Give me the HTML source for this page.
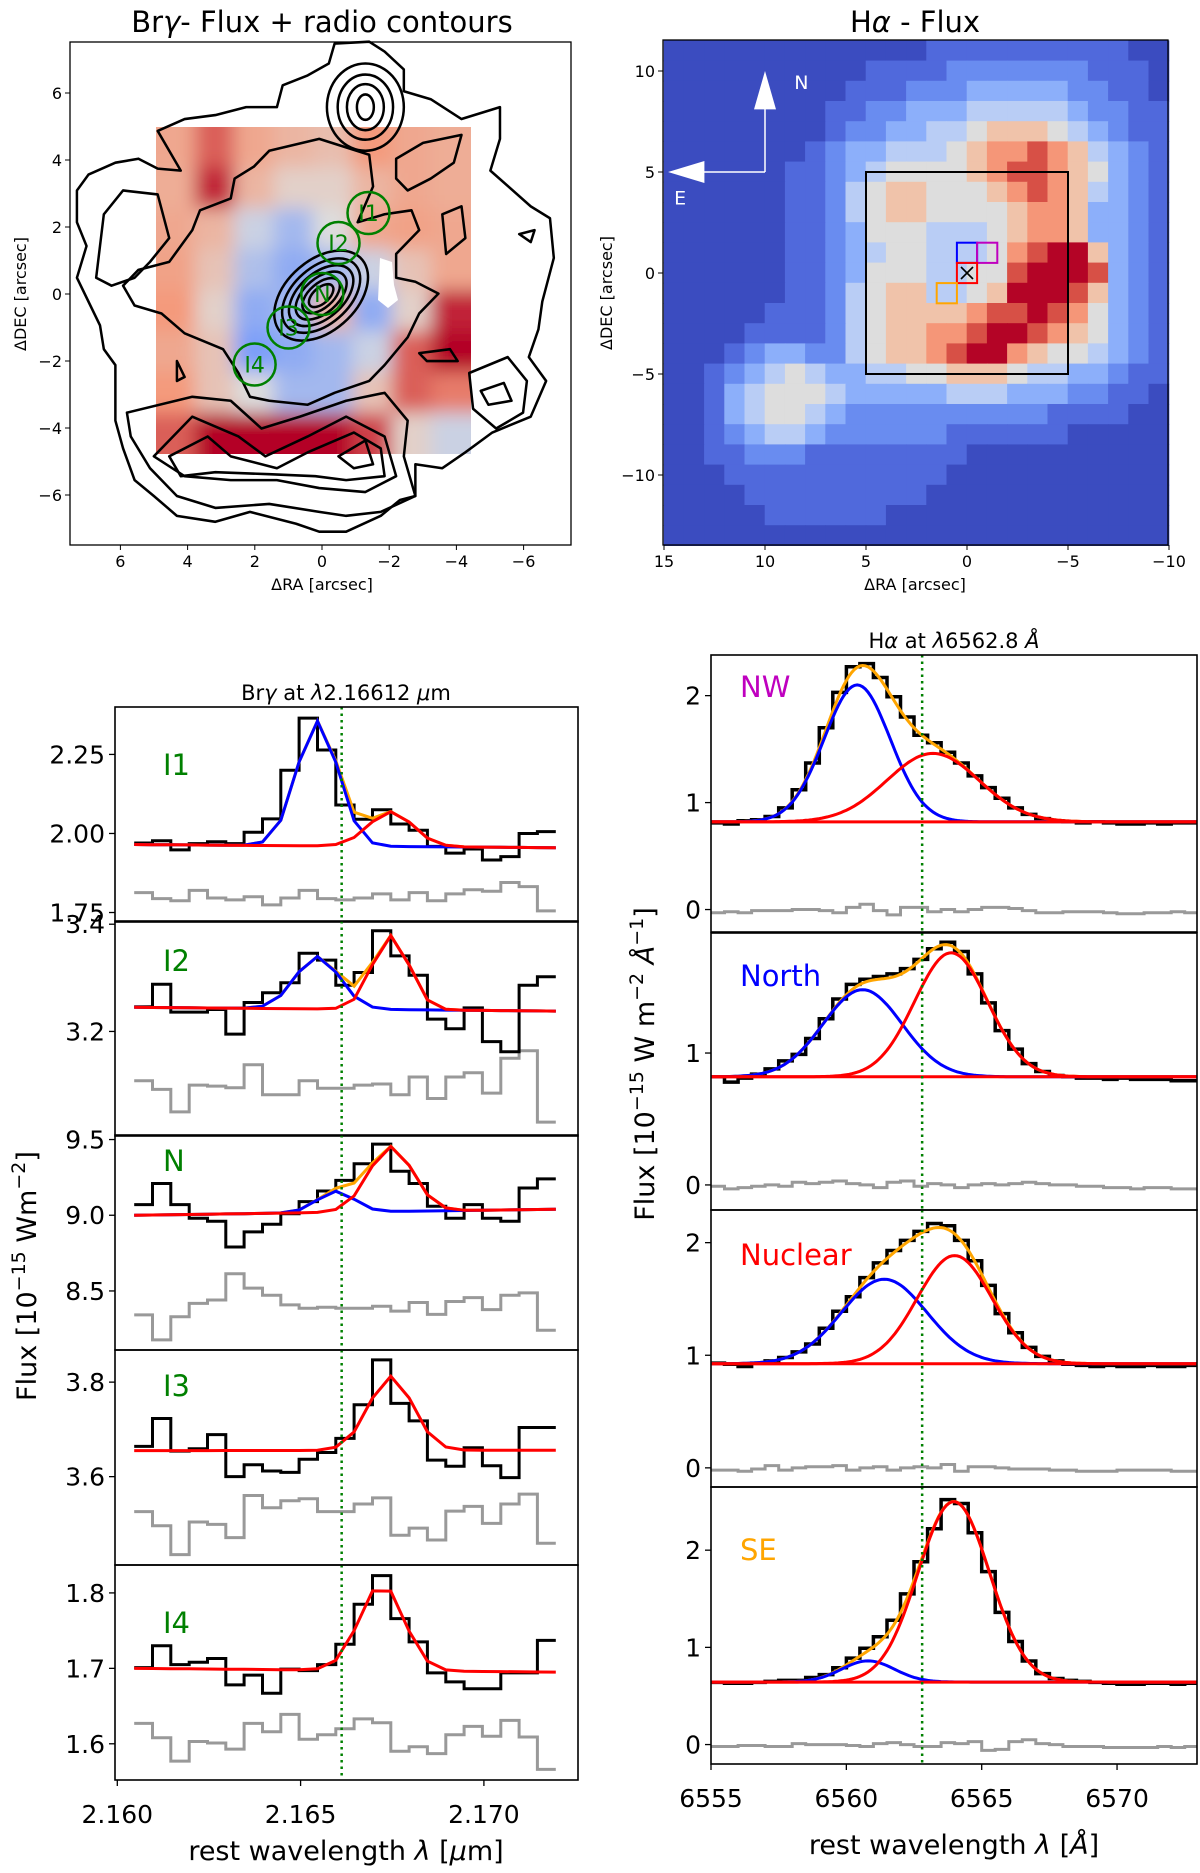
<!DOCTYPE html>
<html><head><meta charset="utf-8">
<style>
html,body{margin:0;padding:0;background:#fff;}
svg{display:block;font-family:"DejaVu Sans","Liberation Sans",sans-serif;}
</style></head>
<body>
<svg id="fig" width="1200" height="1873" viewBox="0 0 1200 1873" xmlns="http://www.w3.org/2000/svg">
<defs>
<filter id="blurF" x="-20%" y="-20%" width="140%" height="140%"><feGaussianBlur stdDeviation="9"/></filter>
<clipPath id="fieldClip"><rect x="156" y="127" width="315" height="327"/></clipPath>
</defs>
<text x="322" y="32" font-size="29" text-anchor="middle">Br<tspan font-style="italic">γ</tspan>- Flux + radio contours</text>
<text x="915" y="32" font-size="29" text-anchor="middle">H<tspan font-style="italic">α</tspan> - Flux</text>
<text x="322" y="590" font-size="16" text-anchor="middle">ΔRA [arcsec]</text>
<text transform="translate(26,294) rotate(-90)" font-size="16" text-anchor="middle">ΔDEC [arcsec]</text>
<text x="915" y="590" font-size="16" text-anchor="middle">ΔRA [arcsec]</text>
<text transform="translate(612,293) rotate(-90)" font-size="16" text-anchor="middle">ΔDEC [arcsec]</text>
<text x="346" y="700" font-size="21" text-anchor="middle">Br<tspan font-style="italic">γ</tspan> at <tspan font-style="italic">λ</tspan>2.16612 <tspan font-style="italic">μ</tspan>m</text>
<text x="954" y="648" font-size="21" text-anchor="middle">H<tspan font-style="italic">α</tspan> at <tspan font-style="italic">λ</tspan>6562.8 <tspan font-style="italic">Å</tspan></text>
<text x="346" y="1860" font-size="27" text-anchor="middle">rest wavelength <tspan font-style="italic">λ</tspan> [<tspan font-style="italic">μ</tspan>m]</text>
<text x="954" y="1854" font-size="27" text-anchor="middle">rest wavelength <tspan font-style="italic">λ</tspan> [<tspan font-style="italic">Å</tspan>]</text>
<text transform="translate(36,1276) rotate(-90)" font-size="27" text-anchor="middle">Flux [10<tspan baseline-shift="super" font-size="19">−15</tspan> Wm<tspan baseline-shift="super" font-size="19">−2</tspan>]</text>
<text transform="translate(654,1064) rotate(-90)" font-size="27" text-anchor="middle">Flux [10<tspan baseline-shift="super" font-size="19">−15</tspan> W m<tspan baseline-shift="super" font-size="19">−2</tspan> <tspan font-style="italic">Å</tspan><tspan baseline-shift="super" font-size="19">−1</tspan>]</text>
</svg>
<script>
// ---------------- DATA ----------------
const brStart = 2.16046;
const brStep = 0.0005;
const brNames = ['I1','I2','N','I3','I4'];
const brI1Obs = [1.970,1.977,1.948,1.968,1.974,1.968,2.004,2.046,2.200,2.365,2.264,2.090,2.045,2.075,2.030,2.010,1.959,1.938,1.951,1.916,1.927,2.000,2.006];
const brI1Res = [1.813,1.794,1.787,1.820,1.796,1.790,1.800,1.774,1.796,1.820,1.794,1.790,1.796,1.809,1.790,1.813,1.787,1.809,1.822,1.817,1.845,1.832,1.755];
const brI2Obs = [3.246,3.288,3.236,3.236,3.241,3.195,3.254,3.272,3.291,3.346,3.333,3.286,3.310,3.388,3.341,3.305,3.223,3.205,3.244,3.181,3.162,3.286,3.302];
const brI2Res = [3.108,3.092,3.050,3.100,3.098,3.095,3.138,3.082,3.082,3.108,3.094,3.094,3.100,3.102,3.082,3.115,3.075,3.115,3.123,3.085,3.150,3.164,3.031];
const brNObs = [9.07,9.21,9.07,8.98,8.96,8.79,8.89,8.94,9.01,9.09,9.16,9.23,9.34,9.47,9.29,9.21,9.06,8.98,9.07,8.98,8.96,9.18,9.24];
const brNRes = [8.342,8.177,8.329,8.418,8.440,8.614,8.519,8.472,8.408,8.386,8.392,8.386,8.386,8.399,8.367,8.424,8.345,8.430,8.456,8.377,8.472,8.487,8.240];
const brI3Obs = [3.664,3.723,3.654,3.659,3.689,3.600,3.625,3.612,3.609,3.637,3.651,3.681,3.752,3.847,3.755,3.718,3.635,3.622,3.661,3.623,3.598,3.704,3.704];
const brI3Res = [3.526,3.496,3.435,3.504,3.499,3.471,3.560,3.534,3.549,3.553,3.526,3.526,3.542,3.555,3.476,3.491,3.466,3.527,3.537,3.501,3.542,3.563,3.459];
const brI4Obs = [1.701,1.730,1.705,1.708,1.713,1.678,1.691,1.667,1.699,1.697,1.705,1.732,1.785,1.823,1.766,1.735,1.694,1.682,1.673,1.673,1.694,1.694,1.737];
const brI4Res = [1.627,1.608,1.577,1.603,1.601,1.593,1.627,1.616,1.639,1.606,1.612,1.620,1.633,1.628,1.590,1.596,1.587,1.612,1.623,1.610,1.631,1.609,1.566];
const brI1Cont = [1.965,1.955]; const brI1Blue = [0.395,2.16546,0.00056]; const brI1Red = [0.11,2.16746,0.0006];
const brI2Cont = [3.245,3.238]; const brI2Blue = [0.098,2.16546,0.0006]; const brI2Red = [0.138,2.16746,0.0005];
const brNCont = [9.0,9.04]; const brNBlue = [0.14,2.16596,0.0005]; const brNRed = [0.43,2.16746,0.0006];
const brI3Cont = [3.655,3.656]; const brI3Blue = [0,2.166,0.0005]; const brI3Red = [0.157,2.16746,0.0006];
const brI4Cont = [1.70,1.695]; const brI4Blue = [0,2.166,0.0005]; const brI4Red = [0.115,2.16721,0.0006];
const brYlims = [[1.72,2.40],[3.005,3.406],[8.11,9.53],[3.413,3.868],[1.552,1.837]];
const brYTicks = [[1.75,2.00,2.25],[3.2,3.4],[8.5,9.0,9.5],[3.6,3.8],[1.6,1.7,1.8]];
const brYTickLabels = [['1.75','2.00','2.25'],['3.2','3.4'],['8.5','9.0','9.5'],['3.6','3.8'],['1.6','1.7','1.8']];
const brXTicks = [2.160,2.165,2.170];
const brXTickLabels = ['2.160','2.165','2.170'];
const brLine = 2.16612;

const haStart = 6555;
const haStep = 0.5;
const haNames = ['NW','North','Nuclear','SE'];
const haNWObs = [0.81,0.80,0.83,0.84,0.87,0.95,1.12,1.37,1.70,2.03,2.27,2.30,2.17,1.99,1.80,1.63,1.56,1.47,1.37,1.25,1.14,1.04,0.95,0.89,0.85,0.83,0.82,0.81,0.82,0.81,0.80,0.80,0.81,0.80,0.81,0.81];
const haNWRes = [-0.03,-0.02,-0.03,-0.01,-0.01,-0.01,0.0,0.0,-0.01,-0.03,0.02,0.05,-0.01,-0.05,0.02,0.02,-0.02,0.0,-0.02,0.0,0.02,0.02,0.01,-0.01,-0.03,-0.03,-0.02,-0.02,-0.02,-0.03,-0.04,-0.04,-0.03,-0.03,-0.02,-0.03];
const haNorthObs = [0.82,0.78,0.81,0.84,0.88,0.94,0.99,1.11,1.26,1.41,1.52,1.56,1.58,1.60,1.64,1.71,1.79,1.84,1.77,1.60,1.38,1.17,1.03,0.92,0.86,0.83,0.82,0.81,0.81,0.80,0.81,0.80,0.80,0.80,0.79,0.79];
const haNorthRes = [-0.01,-0.03,-0.02,-0.01,0.0,-0.01,0.02,0.01,0.02,0.03,0.01,0.0,-0.02,0.02,0.03,-0.01,0.01,0.0,-0.02,0.0,0.01,0.0,0.01,0.02,0.01,0.0,0.0,-0.01,-0.01,-0.02,-0.02,-0.03,-0.02,-0.02,-0.03,-0.03];
const haNucObs = [0.93,0.92,0.90,0.93,0.95,0.98,1.03,1.10,1.24,1.39,1.52,1.69,1.82,1.93,2.02,2.10,2.17,2.15,2.02,1.84,1.62,1.37,1.20,1.07,0.99,0.95,0.92,0.91,0.90,0.91,0.90,0.90,0.91,0.90,0.90,0.91];
const haNucRes = [-0.02,-0.02,-0.03,-0.01,0.02,-0.02,0.0,0.01,0.01,0.02,-0.02,0.0,0.01,-0.02,0.0,0.01,0.0,0.03,-0.03,0.01,0.01,0.0,-0.01,-0.01,-0.01,-0.02,-0.02,-0.03,-0.03,-0.03,-0.02,-0.02,-0.02,-0.02,-0.03,-0.03];
const haSEObs = [0.64,0.63,0.63,0.64,0.65,0.66,0.66,0.69,0.72,0.79,0.89,0.99,1.11,1.28,1.55,1.88,2.22,2.52,2.48,2.18,1.78,1.36,1.06,0.86,0.73,0.68,0.66,0.65,0.64,0.63,0.62,0.62,0.63,0.63,0.62,0.63];
const haSERes = [-0.02,-0.02,-0.01,-0.01,-0.02,-0.02,0.01,0.0,0.0,0.0,-0.01,-0.02,0.01,0.02,0.0,-0.02,-0.02,0.02,0.01,0.03,-0.06,-0.05,0.03,0.05,0.01,0.0,-0.02,-0.02,-0.02,-0.03,-0.03,-0.03,-0.03,-0.02,-0.03,-0.02];
const haNWCont = 0.82; const haNWBlue = [1.28,6560.4,1.22]; const haNWRed = [0.64,6563.2,1.70];
const haNorthCont = 0.82; const haNorthBlue = [0.66,6560.6,1.46]; const haNorthRed = [0.94,6563.87,1.35];
const haNucCont = 0.925; const haNucBlue = [0.75,6561.4,1.58]; const haNucRed = [0.96,6564.0,1.38];
const haSECont = 0.643; const haSEBlue = [0.218,6560.8,0.98]; const haSERed = [1.857,6563.97,1.32];
const haYlims = [[-0.21,2.38],[-0.19,1.91],[-0.17,2.29],[-0.2,2.65]];
const haYTicks = [[0,1,2],[0,1],[0,1,2],[0,1,2]];
const haYTickLabels = [['0','1','2'],['0','1'],['0','1','2'],['0','1','2']];
const haXTicks = [6555,6560,6565,6570];
const haXTickLabels = ['6555','6560','6565','6570'];
const haLine = 6562.8;

const brMapTicks = [6,4,2,0,-2,-4,-6];
const brMapTickLabels = ['6','4','2','0','−2','−4','−6'];
const haMapXTicks = [15,10,5,0,-5,-10];
const haMapXTickLabels = ['15','10','5','0','−5','−10'];
const haMapYTicks = [10,5,0,-5,-10];
const haMapYTickLabels = ['10','5','0','−5','−10'];
const bryGrid = [
 [0.70,0.85,0.70,0.65,0.62,0.75,0.70,0.68],
 [0.68,0.95,0.65,0.55,0.55,0.65,0.70,0.68],
 [0.70,0.65,0.45,0.35,0.50,0.70,0.72,0.70],
 [0.72,0.60,0.38,0.30,0.35,0.45,0.60,0.70],
 [0.75,0.55,0.30,0.35,0.65,0.30,0.55,0.95],
 [0.70,0.60,0.25,0.30,0.35,0.45,0.85,1.00],
 [0.75,0.60,0.50,0.35,0.35,0.60,0.85,0.80],
 [0.85,1.00,1.00,1.00,1.00,0.90,0.55,0.45]];
const haGrid = [
"0000000000000111111111100",
"0000000000111122222221110",
"0000000001112223333322110",
"0000000011223334444432211",
"0000000012233445666543211",
"0000000123344456778764321",
"0000001123455556788765321",
"0000001124566555678764321",
"0000001124566555567763321",
"0000001123555444567763321",
"0000001123455444578996321",
"0000001123555445589998321",
"0000001124566445699986321",
"0000011124566667889875321",
"0000111124566778998765321",
"0001233224566789976554321",
"0012345433445566654433211",
"0013455543333344433322110",
"0013455432222222222111100",
"0012344322222211111100000",
"0011222111111110000000000",
"0001111111111100000000000",
"0000111111111000000000000",
"0000011111100000000000000",
"0000000000000000000000000"];
const haDigitColors = ['#3b4cc0','#5069dc','#698cf0','#8cafFa','#b9cdf5','#dddddd','#f0c3aa','#f59678','#d75046','#b40426'];

// ---------------- HELPERS ----------------
const NS = 'http://www.w3.org/2000/svg';
const svg = document.getElementById('fig');
function mk(tag, attrs, parent, name, inter) {
  const el = document.createElementNS(NS, tag);
  for (const k in attrs) el.setAttribute(k, attrs[k]);
  
  
  (parent || svg).appendChild(el);
  return el;
}
function txt(s, attrs, parent, name) {
  const t = mk('text', attrs, parent, name, false);
  t.textContent = s;
  return t;
}
function gauss(p, x) { return p[0] * Math.exp(-((x - p[1]) * (x - p[1])) / (2 * p[2] * p[2])); }
function cw(t) {
  const a = [[0,59,76,192],[0.25,124,159,249],[0.5,221,221,221],[0.75,244,154,123],[1,180,4,38]];
  t = Math.max(0, Math.min(1, t));
  for (let i = 0; i < a.length - 1; i++) {
    if (t <= a[i+1][0]) {
      const f = (t - a[i][0]) / (a[i+1][0] - a[i][0]);
      const c = [1,2,3].map(j => Math.round(a[i][j] + f * (a[i+1][j] - a[i][j])));
      return 'rgb(' + c.join(',') + ')';
    }
  }
}

// ---------------- BRY MAP ----------------
(function () {
  const L = 70, R = 571, T = 42, B = 545;
  const mx = v => 322 - v * 33.6;
  const my = v => 294 - v * 33.5;
  const g = mk('g', {}, svg, 'bry-flux-map', false);
  const hm = mk('g', {'clip-path': 'url(#fieldClip)'}, g, 'bry-heatmap', false);
  const hb = mk('g', {filter: 'url(#blurF)'}, hm, 'bry-heatmap-cells', false);
  const fx0 = 156, fy0 = 127, cwid = 315 / 8, chei = 327 / 8;
  for (let r = -2; r < 10; r++) for (let c = -2; c < 10; c++) {
    const rr = Math.max(0, Math.min(7, r)), cc = Math.max(0, Math.min(7, c));
    mk('rect', {x: fx0 + c * cwid - 0.5, y: fy0 + r * chei - 0.5, width: cwid + 1, height: chei + 1, fill: cw(bryGrid[rr][cc])}, hb, 'bry-heatmap-cell', false);
  }
  mk('path', {d: 'M380,258 L392,262 L394,285 L398,300 L388,308 L378,300 Z', fill: '#fff'}, hm, 'bry-map-blank', false);
  const cg = mk('g', {transform: 'scale(0.3846,0.3968)', fill: 'none', stroke: '#000', 'stroke-width': 6.5, 'stroke-linejoin': 'round'}, g, 'radio-contours', false);
  const polys = [
   [[720,270],[735,215],[800,190],[855,160],[870,110],[960,105],[1000,130],[1050,175],[1050,230],[1120,250],[1200,300],[1300,270],[1300,350],[1275,430],[1380,520],[1430,550],[1440,650],[1410,760],[1400,830],[1375,900],[1420,960],[1380,1050],[1280,1090],[1210,1140],[1150,1180],[1080,1170],[1080,1250],[1040,1260],[990,1300],[900,1340],[830,1340],[770,1320],[650,1290],[560,1315],[460,1300],[400,1250],[350,1210],[320,1130],[300,1060],[300,920],[270,880],[260,820],[240,780],[200,700],[225,620],[200,560],[200,480],[230,440],[300,410],[360,400],[410,425],[470,430],[410,330],[480,300],[560,290],[640,270]],
   [[700,380],[830,350],[960,390],[970,470],[930,560],[1000,540],[1070,530],[1090,580],[1030,640],[1030,700],[1080,710],[1140,740],[1090,790],[1060,850],[1000,920],[960,960],[870,990],[800,1020],[700,1010],[650,1000],[620,940],[580,880],[480,840],[420,790],[350,770],[320,720],[360,680],[440,660],[500,580],[520,530],[600,500],[610,450],[660,420]],
   [[270,540],[320,480],[410,490],[440,600],[390,660],[350,700],[290,720],[250,700],[260,620]],
   [[330,1040],[500,1000],[600,1010],[680,1080],[780,1050],[900,1010],[1000,990],[1060,1060],[1050,1150],[1080,1250],[990,1290],[900,1300],[830,1290],[700,1270],[560,1280],[460,1250],[390,1180],[340,1100]],
   [[400,1150],[500,1050],[620,1100],[690,1150],[800,1100],[900,1050],[1000,1100],[1030,1200],[950,1240],[830,1230],[720,1210],[600,1210],[480,1200]],
   [[440,1150],[540,1100],[600,1150],[720,1180],[800,1140],[920,1090],[990,1130],[1000,1200],[900,1210],[820,1200],[700,1195],[560,1190],[470,1200]],
   [[880,1150],[950,1110],[970,1170],[920,1180]],
   [[1220,940],[1320,900],[1370,960],[1360,1040],[1290,1080],[1230,1030]],
   [[1250,985],[1310,965],[1330,1010],[1270,1020]],
   [[1090,890],[1170,880],[1190,910],[1110,910]],
   [[1150,540],[1200,520],[1210,600],[1160,640]],
   [[1350,590],[1390,580],[1380,610]],
   [[1030,400],[1100,360],[1200,340],[1180,410],[1120,450],[1060,480],[1030,450]],
   [[460,910],[480,950],[460,960]]
  ];
  polys.forEach(p => {
    mk('path', {d: 'M' + p.map(q => q.join(',')).join(' L') + ' Z'}, cg, 'radio-contour', false);
  });
  [[100,110],[72,82],[48,58],[22,32]].forEach(e => {
    mk('ellipse', {cx: 950, cy: 270, rx: e[0], ry: e[1]}, cg, 'radio-contour-north-knot', false);
  });
  [[140,90],[118,72],[98,57],[78,44],[58,31],[38,20]].forEach(e => {
    mk('ellipse', {cx: 835, cy: 745, rx: e[0], ry: e[1], transform: 'rotate(-40 835 745)'}, cg, 'radio-contour-nucleus', false);
  });
  const circ = [[368.5,213,'I1'],[338.5,243,'I2'],[322.3,294,'N'],[288.5,327.5,'I3'],[254.6,364.5,'I4']];
  circ.forEach(c => {
    mk('circle', {cx: c[0], cy: c[1], r: 21, fill: 'none', stroke: '#008000', 'stroke-width': 2.5}, g, 'aperture-' + c[2].toLowerCase(), false);
    txt(c[2], {x: c[0], y: c[1] + 8, 'font-size': 22, 'text-anchor': 'middle', fill: '#008000'}, g, 'aperture-label-' + c[2].toLowerCase());
  });
  mk('rect', {x: L, y: T, width: R - L, height: B - T, fill: 'none', stroke: '#000', 'stroke-width': 1.3}, g, 'bry-map-frame', false);
  brMapTicks.forEach((v, i) => {
    mk('line', {x1: mx(v), x2: mx(v), y1: B, y2: B + 5, stroke: '#000'}, g, 'bry-map-x-tick', false);
    txt(brMapTickLabels[i], {x: mx(v), y: B + 22, 'font-size': 16, 'text-anchor': 'middle'}, g, 'bry-map-x-tick-label');
    mk('line', {x1: L - 5, x2: L, y1: my(v), y2: my(v), stroke: '#000'}, g, 'bry-map-y-tick', false);
    txt(brMapTickLabels[i], {x: L - 8, y: my(v) + 6, 'font-size': 16, 'text-anchor': 'end'}, g, 'bry-map-y-tick-label');
  });
})();

// ---------------- HALPHA MAP ----------------
(function () {
  const L = 663, R = 1168, T = 40, B = 545;
  const mx = v => 967 - v * 20.2;
  const my = v => 273 - v * 20.2;
  const g = mk('g', {}, svg, 'ha-flux-map', false);
  for (let r = 0; r < 25; r++) for (let c = 0; c < 25; c++) {
    const d = +haGrid[r][c];
    mk('rect', {x: mx(15 - c) - 0.3, y: my(11.5 - r) - 0.3, width: 20.8, height: 20.8, fill: haDigitColors[d]}, g, 'ha-map-pixel', false);
  }
  mk('rect', {x: mx(5), y: my(5), width: mx(-5) - mx(5), height: my(-5) - my(5), fill: 'none', stroke: '#000', 'stroke-width': 2}, g, 'inner-fov-box', false);
  const sq = [[0.5,1.5,'#0000ff','north'],[-0.5,1.5,'#bf00bf','nw'],[0.5,0.5,'#ff0000','nuclear'],[1.5,-0.5,'#ffa500','se']];
  sq.forEach(s => {
    mk('rect', {x: mx(s[0]), y: my(s[1]), width: 20.2, height: 20.2, fill: 'none', stroke: s[2], 'stroke-width': 2}, g, 'aperture-box-' + s[3], false);
  });
  mk('path', {d: `M${mx(0)-6},${my(0)-6} L${mx(0)+6},${my(0)+6} M${mx(0)+6},${my(0)-6} L${mx(0)-6},${my(0)+6}`, stroke: '#000', 'stroke-width': 1.6}, g, 'nucleus-marker', false);
  mk('path', {d: `M${mx(10)},${my(5)} L${mx(10)},${my(8.3)} M${mx(10)},${my(5)} L${mx(13.3)},${my(5)}`, stroke: '#fff', 'stroke-width': 1.5, fill: 'none'}, g, 'compass-lines', false);
  mk('path', {d: `M${mx(10)-11},${my(8.1)} L${mx(10)},${my(10)} L${mx(10)+11},${my(8.1)} Z`, fill: '#fff'}, g, 'compass-north-arrow', false);
  mk('path', {d: `M${mx(13)},${my(5)-11} L${mx(14.8)},${my(5)} L${mx(13)},${my(5)+11} Z`, fill: '#fff'}, g, 'compass-east-arrow', false);
  txt('N', {x: mx(8.2), y: my(9.1), 'font-size': 19, fill: '#fff', 'text-anchor': 'middle'}, g, 'compass-n-label');
  txt('E', {x: mx(14.2), y: my(3.4), 'font-size': 19, fill: '#fff', 'text-anchor': 'middle'}, g, 'compass-e-label');
  mk('rect', {x: L, y: T, width: R - L, height: B - T, fill: 'none', stroke: '#000', 'stroke-width': 1.3}, g, 'ha-map-frame', false);
  haMapXTicks.forEach((v, i) => {
    mk('line', {x1: mx(v), x2: mx(v), y1: B, y2: B + 5, stroke: '#000'}, g, 'ha-map-x-tick', false);
    txt(haMapXTickLabels[i], {x: mx(v), y: B + 22, 'font-size': 16, 'text-anchor': 'middle'}, g, 'ha-map-x-tick-label');
  });
  haMapYTicks.forEach((v, i) => {
    mk('line', {x1: L - 5, x2: L, y1: my(v), y2: my(v), stroke: '#000'}, g, 'ha-map-y-tick', false);
    txt(haMapYTickLabels[i], {x: L - 8, y: my(v) + 6, 'font-size': 16, 'text-anchor': 'end'}, g, 'ha-map-y-tick-label');
  });
})();

// ---------------- SPECTRA ----------------
function stepPath(xs, start, step, vals, yf) {
  let d = '';
  vals.forEach((v, k) => {
    const x0 = xs(start + k * step), x1 = xs(start + (k + 1) * step), y = yf(v);
    d += (k === 0 ? 'M' : 'L') + x0.toFixed(1) + ',' + y.toFixed(1) + ' L' + x1.toFixed(1) + ',' + y.toFixed(1) + ' ';
  });
  return d;
}
function linePath(pts) { return 'M' + pts.map(p => p[0].toFixed(1) + ',' + p[1].toFixed(1)).join(' L'); }

(function () {
  const L = 115, R = 578, tops = [707, 921, 1135, 1350, 1565], H = 215;
  const xs = v => 117.3 + (v - 2.160) / 0.005 * 183.3;
  const obs = [brI1Obs, brI2Obs, brNObs, brI3Obs, brI4Obs];
  const res = [brI1Res, brI2Res, brNRes, brI3Res, brI4Res];
  const conts = [brI1Cont, brI2Cont, brNCont, brI3Cont, brI4Cont];
  const blues = [brI1Blue, brI2Blue, brNBlue, brI3Blue, brI4Blue];
  const reds = [brI1Red, brI2Red, brNRed, brI3Red, brI4Red];
  brNames.forEach((nm, i) => {
    const T = tops[i], lim = brYlims[i];
    const yf = v => T + (lim[1] - v) / (lim[1] - lim[0]) * H;
    const g = mk('g', {}, svg, 'bry-panel-' + nm.toLowerCase(), false);
    const cp = mk('clipPath', {id: 'brc' + i}, g, 'bry-clip', false);
    mk('rect', {x: L, y: T, width: R - L, height: H}, cp, 'bry-clip-rect', false);
    const pg = mk('g', {'clip-path': 'url(#brc' + i + ')', fill: 'none', 'stroke-linejoin': 'miter'}, g, 'bry-plot-area', false);
    mk('path', {d: stepPath(xs, brStart, brStep, res[i], yf), stroke: '#999', 'stroke-width': 3}, pg, 'bry-residual-' + nm.toLowerCase(), false);
    mk('path', {d: stepPath(xs, brStart, brStep, obs[i], yf), stroke: '#000', 'stroke-width': 3}, pg, 'bry-observed-' + nm.toLowerCase(), false);
    const c = conts[i], b = blues[i], r = reds[i];
    const tot = [], bl = [], rd = [];
    for (let k = 0; k <= 23; k++) {
      const x = brStart + k * brStep;
      const cc = c[0] + (c[1] - c[0]) * k / 23;
      tot.push([xs(x), yf(cc + gauss(b, x) + gauss(r, x))]);
      bl.push([xs(x), yf(cc + gauss(b, x))]);
      rd.push([xs(x), yf(cc + gauss(r, x))]);
    }
    if (b[0] > 0) {
      mk('path', {d: linePath(tot), stroke: '#ffa500', 'stroke-width': 3}, pg, 'bry-total-fit-' + nm.toLowerCase(), false);
      mk('path', {d: linePath(bl), stroke: '#0000ff', 'stroke-width': 3}, pg, 'bry-blue-component-' + nm.toLowerCase(), false);
    }
    mk('path', {d: linePath(rd), stroke: '#ff0000', 'stroke-width': 3}, pg, 'bry-red-component-' + nm.toLowerCase(), false);
    mk('line', {x1: xs(brLine), x2: xs(brLine), y1: T, y2: T + H, stroke: '#008000', 'stroke-width': 2.5, 'stroke-dasharray': '2.5,4'}, g, 'bry-rest-line', false);
    mk('rect', {x: L, y: T, width: R - L, height: H, fill: 'none', stroke: '#000', 'stroke-width': 1.6}, g, 'bry-panel-frame', false);
    brYTicks[i].forEach((v, j) => {
      mk('line', {x1: L - 6, x2: L, y1: yf(v), y2: yf(v), stroke: '#000', 'stroke-width': 1.3}, g, 'bry-y-tick', false);
      txt(brYTickLabels[i][j], {x: L - 10, y: yf(v) + 9, 'font-size': 25, 'text-anchor': 'end'}, g, 'bry-y-tick-label');
    });
    const lbY = [775, 971, 1171, 1396, 1633][i];
    txt(nm, {x: 163, y: lbY, 'font-size': 29, fill: '#008000'}, g, 'bry-panel-label-' + nm.toLowerCase());
  });
  const B = tops[4] + H;
  brXTicks.forEach((v, i) => {
    mk('line', {x1: xs(v), x2: xs(v), y1: B, y2: B + 6, stroke: '#000', 'stroke-width': 1.3}, svg, 'bry-x-tick', false);
    txt(brXTickLabels[i], {x: xs(v), y: 1823, 'font-size': 25, 'text-anchor': 'middle'}, svg, 'bry-x-tick-label');
  });
})();

(function () {
  const L = 711, R = 1197, tops = [655, 933, 1210, 1487], H = 277;
  const xs = v => 711 + (v - 6555) * 27.07;
  const obs = [haNWObs, haNorthObs, haNucObs, haSEObs];
  const res = [haNWRes, haNorthRes, haNucRes, haSERes];
  const conts = [haNWCont, haNorthCont, haNucCont, haSECont];
  const blues = [haNWBlue, haNorthBlue, haNucBlue, haSEBlue];
  const reds = [haNWRed, haNorthRed, haNucRed, haSERed];
  const labelCols = ['#bf00bf', '#0000ff', '#ff0000', '#ffa500'];
  const labelY = [697, 986, 1265, 1560];
  haNames.forEach((nm, i) => {
    const T = tops[i], lim = haYlims[i];
    const yf = v => T + (lim[1] - v) / (lim[1] - lim[0]) * H;
    const g = mk('g', {}, svg, 'ha-panel-' + nm.toLowerCase(), false);
    const cp = mk('clipPath', {id: 'hac' + i}, g, 'ha-clip', false);
    mk('rect', {x: L, y: T, width: R - L, height: H}, cp, 'ha-clip-rect', false);
    const pg = mk('g', {'clip-path': 'url(#hac' + i + ')', fill: 'none'}, g, 'ha-plot-area', false);
    mk('path', {d: stepPath(xs, haStart, haStep, res[i], yf), stroke: '#999', 'stroke-width': 3}, pg, 'ha-residual-' + nm.toLowerCase(), false);
    mk('path', {d: stepPath(xs, haStart, haStep, obs[i], yf), stroke: '#000', 'stroke-width': 3.5}, pg, 'ha-observed-' + nm.toLowerCase(), false);
    const c = conts[i], b = blues[i], r = reds[i];
    const tot = [], bl = [], rd = [];
    for (let x = 6555; x <= 6573.05; x += 0.1) {
      tot.push([xs(x), yf(c + gauss(b, x) + gauss(r, x))]);
      bl.push([xs(x), yf(c + gauss(b, x))]);
      rd.push([xs(x), yf(c + gauss(r, x))]);
    }
    mk('path', {d: linePath(tot), stroke: '#ffa500', 'stroke-width': 3}, pg, 'ha-total-fit-' + nm.toLowerCase(), false);
    mk('path', {d: linePath(bl), stroke: '#0000ff', 'stroke-width': 3}, pg, 'ha-blue-component-' + nm.toLowerCase(), false);
    mk('line', {x1: L, x2: R, y1: yf(c), y2: yf(c), stroke: '#ff0000', 'stroke-width': 3}, pg, 'ha-continuum-' + nm.toLowerCase(), false);
    mk('path', {d: linePath(rd), stroke: '#ff0000', 'stroke-width': 3}, pg, 'ha-red-component-' + nm.toLowerCase(), false);
    mk('line', {x1: xs(haLine), x2: xs(haLine), y1: T, y2: T + H, stroke: '#008000', 'stroke-width': 2.5, 'stroke-dasharray': '2.5,4'}, g, 'ha-rest-line', false);
    mk('rect', {x: L, y: T, width: R - L, height: H, fill: 'none', stroke: '#000', 'stroke-width': 1.6}, g, 'ha-panel-frame', false);
    haYTicks[i].forEach((v, j) => {
      mk('line', {x1: L - 6, x2: L, y1: yf(v), y2: yf(v), stroke: '#000', 'stroke-width': 1.3}, g, 'ha-y-tick', false);
      txt(haYTickLabels[i][j], {x: L - 10, y: yf(v) + 9, 'font-size': 25, 'text-anchor': 'end'}, g, 'ha-y-tick-label');
    });
    txt(nm, {x: 740, y: labelY[i], 'font-size': 29, fill: labelCols[i]}, g, 'ha-panel-label-' + nm.toLowerCase());
  });
  const B = tops[3] + H;
  haXTicks.forEach((v, i) => {
    mk('line', {x1: xs(v), x2: xs(v), y1: B, y2: B + 6, stroke: '#000', 'stroke-width': 1.3}, svg, 'ha-x-tick', false);
    txt(haXTickLabels[i], {x: xs(v), y: 1807, 'font-size': 25, 'text-anchor': 'middle'}, svg, 'ha-x-tick-label');
  });
})();
</script>
</body></html>
